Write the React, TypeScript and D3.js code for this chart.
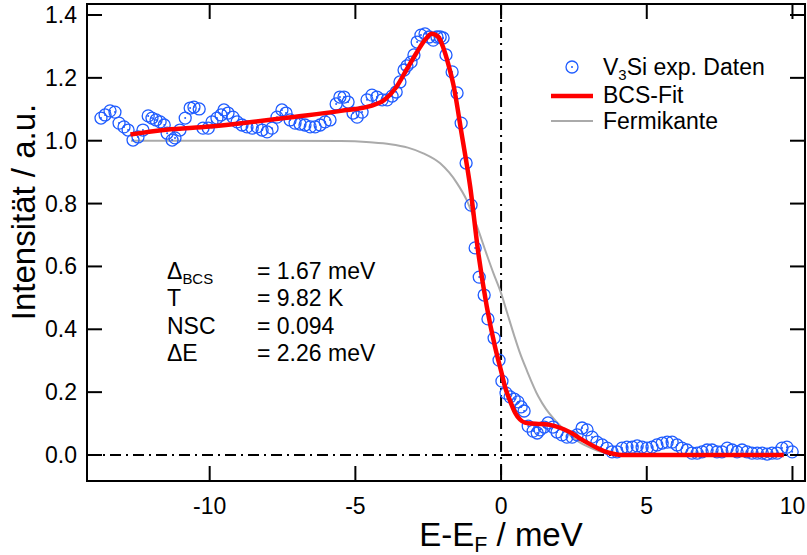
import React from "react";
import * as d3 from "d3";

// experimental points [E - E_F (meV), intensity (a.u.)]
const expData: [number, number][] = [
  [-13.73, 1.072], [-13.59, 1.082], [-13.42, 1.095], [-13.25, 1.091], [-13.11, 1.056],
  [-12.94, 1.044], [-12.8, 1.034], [-12.63, 1.002], [-12.46, 1.012], [-12.29, 1.034],
  [-12.11, 1.079], [-11.98, 1.072], [-11.84, 1.066], [-11.7, 1.06], [-11.56, 1.05],
  [-11.46, 1.024], [-11.29, 1.002], [-11.19, 1.009], [-11.02, 1.034], [-10.84, 1.072],
  [-10.67, 1.104], [-10.54, 1.107], [-10.36, 1.101], [-10.23, 1.04], [-10.05, 1.04],
  [-9.92, 1.06], [-9.75, 1.072], [-9.61, 1.082], [-9.51, 1.098], [-9.37, 1.088],
  [-9.2, 1.075], [-9.06, 1.06], [-8.89, 1.05], [-8.72, 1.044], [-8.54, 1.04],
  [-8.37, 1.044], [-8.2, 1.034], [-8.03, 1.028], [-7.86, 1.04], [-7.69, 1.075],
  [-7.52, 1.098], [-7.38, 1.088], [-7.24, 1.066], [-7.07, 1.056], [-6.9, 1.053],
  [-6.73, 1.05], [-6.55, 1.044], [-6.38, 1.044], [-6.21, 1.05], [-6.04, 1.06],
  [-5.87, 1.066], [-5.66, 1.117], [-5.53, 1.139], [-5.39, 1.139], [-5.25, 1.123],
  [-5.08, 1.088], [-4.94, 1.075], [-4.77, 1.091], [-4.6, 1.13], [-4.43, 1.145],
  [-4.26, 1.139], [-4.08, 1.13], [-3.91, 1.13], [-3.74, 1.142], [-3.6, 1.155],
  [-3.47, 1.187], [-3.33, 1.225], [-3.23, 1.238], [-3.09, 1.25], [-2.99, 1.273],
  [-2.88, 1.314], [-2.75, 1.336], [-2.61, 1.34], [-2.47, 1.33], [-2.33, 1.32],
  [-2.2, 1.33], [-2.09, 1.33], [-1.99, 1.327], [-1.89, 1.273], [-1.68, 1.219],
  [-1.51, 1.152], [-1.37, 1.056], [-1.2, 0.929], [-1.03, 0.795], [-0.89, 0.659],
  [-0.75, 0.566], [-0.58, 0.509], [-0.45, 0.433], [-0.24, 0.372], [-0.07, 0.302],
  [0.03, 0.235], [0.17, 0.197], [0.31, 0.185], [0.45, 0.178], [0.58, 0.169],
  [0.69, 0.153], [0.79, 0.14], [0.93, 0.092], [1.1, 0.076], [1.24, 0.07],
  [1.34, 0.08], [1.48, 0.089], [1.61, 0.102], [1.78, 0.089], [1.92, 0.073],
  [2.09, 0.064], [2.26, 0.057], [2.44, 0.057], [2.61, 0.064], [2.78, 0.086],
  [2.95, 0.08], [3.12, 0.057], [3.29, 0.041], [3.47, 0.032], [3.64, 0.022],
  [3.81, 0.01], [3.98, 0.01], [4.15, 0.022], [4.32, 0.025], [4.5, 0.025],
  [4.67, 0.029], [4.84, 0.025], [5.01, 0.022], [5.18, 0.025], [5.35, 0.032],
  [5.53, 0.038], [5.7, 0.041], [5.87, 0.041], [6.04, 0.032], [6.21, 0.022],
  [6.38, 0.016], [6.55, 0.006], [6.73, 0.006], [6.9, 0.01], [7.07, 0.016],
  [7.24, 0.016], [7.41, 0.01], [7.58, 0.01], [7.76, 0.022], [7.93, 0.016],
  [8.1, 0.01], [8.27, 0.016], [8.44, 0.01], [8.61, 0.006], [8.79, 0.006],
  [8.96, 0.006], [9.13, 0.003], [9.3, 0.006], [9.47, 0.006], [9.64, 0.022],
  [9.81, 0.025], [9.99, 0.01],
];

// BCS fit curve
const fitData: [number, number][] = [
  [-12.72, 1.02], [-11.5, 1.035], [-10.0, 1.045], [-8.7, 1.058], [-7.2, 1.075],
  [-5.5, 1.095], [-4.5, 1.11], [-4.0, 1.13], [-3.6, 1.17], [-3.25, 1.225],
  [-2.9, 1.28], [-2.6, 1.322], [-2.38, 1.34], [-2.15, 1.33], [-1.98, 1.295],
  [-1.8, 1.24], [-1.64, 1.18], [-1.35, 1.02], [-1.06, 0.854], [-0.78, 0.642],
  [-0.49, 0.472], [-0.21, 0.345], [0.02, 0.26], [0.14, 0.215], [0.31, 0.172],
  [0.48, 0.135], [0.65, 0.113], [0.82, 0.103], [1.05, 0.1], [1.28, 0.099],
  [1.6, 0.097], [1.85, 0.092], [2.15, 0.082], [2.43, 0.069], [2.7, 0.053],
  [3.0, 0.037], [3.3, 0.022], [3.57, 0.011], [3.85, 0.004], [4.14, 0.0],
  [5.0, 0.0], [7.0, 0.0], [9.7, 0.0],
];

// Fermi edge curve
const fermiData: [number, number][] = [
  [-12.7, 1.0], [-8.0, 1.0], [-5.5, 0.999], [-4.5, 0.995], [-3.8, 0.989],
  [-3.2, 0.978], [-2.67, 0.96], [-2.09, 0.928], [-1.52, 0.866], [-1.18, 0.811],
  [-0.83, 0.728], [-0.5, 0.64], [-0.26, 0.578], [0.0, 0.515], [0.2, 0.455],
  [0.45, 0.38], [0.65, 0.324], [0.88, 0.27], [1.28, 0.186], [1.55, 0.145],
  [1.85, 0.111], [2.15, 0.082], [2.43, 0.058], [2.7, 0.04], [3.0, 0.026],
  [3.3, 0.014], [3.57, 0.007], [4.0, 0.002], [4.5, 0.0], [9.7, 0.0],
];

const xTicks = [-10, -5, 0, 5, 10];
const xTickLabels = ["-10", "-5", "0", "5", "10"];
const yTicks = [0, 0.2, 0.4, 0.6, 0.8, 1.0, 1.2, 1.4];
const yTickLabels = ["0.0", "0.2", "0.4", "0.6", "0.8", "1.0", "1.2", "1.4"];

const paramNames = ["Δ", "T", "NSC", "ΔE"];
const paramSubs = ["BCS", "", "", ""];
const paramValues = ["= 1.67 meV", "= 9.82 K", "= 0.094", "= 2.26 meV"];

const BLUE = "#1f5cff";
const RED = "#ff0000";
const GREY = "#aaaaaa";
const FONT = "'Liberation Sans', Arial, Helvetica, sans-serif";

export default function App() {
  const W = 807;
  const H = 555;
  const left = 87, right = 805, top = 4, bottom = 481;
  const x = d3.scaleLinear().domain([-14.21, 10.43]).range([left, right]);
  const y = d3.scaleLinear().domain([-0.0827, 1.435]).range([bottom, top]);
  const line = d3
    .line<[number, number]>()
    .x((d) => x(d[0]))
    .y((d) => y(d[1]))
    .curve(d3.curveMonotoneX);
  const tickLen = 15;
  const fs = 23;
  const tfs = 33;

  return (
    <svg
      width={W}
      height={H}
      style={{ position: "absolute", left: 0, top: 0, background: "#fff" }}
      fontFamily={FONT}
    >
      <rect x={0} y={0} width={W} height={H} fill="#fff" />
      {/* reference dash-dot lines */}
      <line x1={left} x2={right} y1={y(0)} y2={y(0)} stroke="#000" strokeWidth={2} strokeDasharray="11,5,2,5" />
      <line x1={x(0)} x2={x(0)} y1={top} y2={bottom} stroke="#000" strokeWidth={2} strokeDasharray="11,5,2,5" />

      {/* Fermi edge */}
      <path d={line(fermiData) || ""} fill="none" stroke={GREY} strokeWidth={2} />

      {/* data points */}
      {expData.map((d, i) => (
        <g key={i}>
          <circle cx={x(d[0])} cy={y(d[1])} r={6} fill="none" stroke={BLUE} strokeWidth={1.3} />
          <circle cx={x(d[0])} cy={y(d[1])} r={1} fill={BLUE} />
        </g>
      ))}

      {/* BCS fit */}
      <path d={line(fitData) || ""} fill="none" stroke={RED} strokeWidth={4.5} strokeLinejoin="round" />

      {/* frame */}
      <rect x={left} y={top} width={right - left} height={bottom - top} fill="none" stroke="#000" strokeWidth={2} />

      {/* x ticks (bottom + top) */}
      {xTicks.map((t, i) => (
        <g key={"xt" + i}>
          <line x1={x(t)} x2={x(t)} y1={bottom} y2={bottom - tickLen} stroke="#000" strokeWidth={2} />
          <line x1={x(t)} x2={x(t)} y1={top} y2={top + tickLen} stroke="#000" strokeWidth={2} />
          <text x={x(t)} y={514} textAnchor="middle" fontSize={fs} fill="#000">
            {xTickLabels[i]}
          </text>
        </g>
      ))}
      {/* y ticks (left + right) */}
      {yTicks.map((t, i) => (
        <g key={"yt" + i}>
          <line x1={left} x2={left + tickLen} y1={y(t)} y2={y(t)} stroke="#000" strokeWidth={2} />
          <line x1={right} x2={right - tickLen} y1={y(t)} y2={y(t)} stroke="#000" strokeWidth={2} />
          <text x={77} y={y(t) + 8} textAnchor="end" fontSize={fs} fill="#000">
            {yTickLabels[i]}
          </text>
        </g>
      ))}

      {/* axis titles */}
      <text x={501} y={546} textAnchor="middle" fontSize={tfs} fill="#000">
        E-E<tspan fontSize={tfs * 0.65} dy={6}>F</tspan>
        <tspan dy={-6}> / meV</tspan>
      </text>
      <text
        transform={`translate(35,${212}) rotate(-90)`}
        textAnchor="middle"
        fontSize={tfs}
        fill="#000"
      >
        Intensität / a.u.
      </text>

      {/* fit parameters */}
      {paramNames.map((n, i) => (
        <g key={"p" + i}>
          <text x={167} y={279 + i * 27.3} fontSize={fs} fill="#000">
            {n}
            {paramSubs[i] && (
              <tspan fontSize={fs * 0.65} dy={5}>
                {paramSubs[i]}
              </tspan>
            )}
          </text>
          <text x={257} y={279 + i * 27.3} fontSize={fs} fill="#000">
            {paramValues[i]}
          </text>
        </g>
      ))}

      {/* legend */}
      <g>
        <circle cx={572} cy={67} r={6} fill="none" stroke={BLUE} strokeWidth={1.3} />
        <circle cx={572} cy={67} r={1} fill={BLUE} />
        <text x={603} y={75} fontSize={fs} fill="#000">
          V<tspan fontSize={fs * 0.65} dy={5}>3</tspan>
          <tspan dy={-5}>Si exp. Daten</tspan>
        </text>
        <line x1={551} x2={593} y1={96} y2={96} stroke={RED} strokeWidth={4.5} />
        <text x={603} y={103} fontSize={fs} fill="#000">
          BCS-Fit
        </text>
        <line x1={551} x2={593} y1={121} y2={121} stroke={GREY} strokeWidth={2} />
        <text x={603} y={129} fontSize={fs} fill="#000">
          Fermikante
        </text>
      </g>
    </svg>
  );
}
